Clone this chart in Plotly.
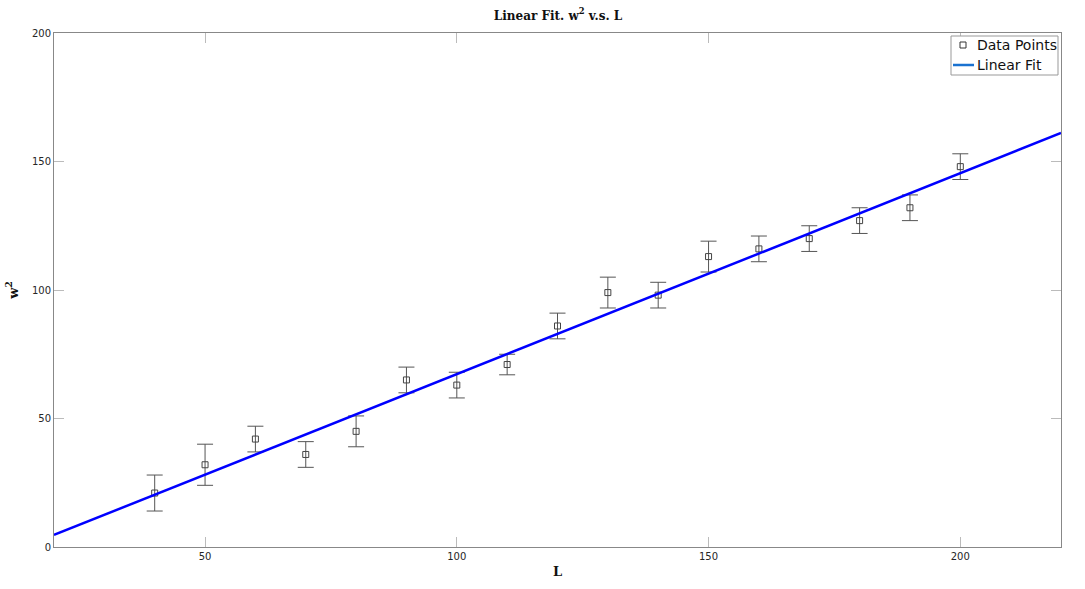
import plotly.graph_objects as go

L_vals = [40, 50, 60, 70, 80, 90, 100, 110, 120, 130, 140, 150, 160, 170, 180, 190, 200]
w2_vals = [21, 32, 42, 36, 45, 65, 63, 71, 86, 99, 98, 113, 116, 120, 127, 132, 148]
w2_err = [7, 8, 5, 5, 6, 5, 5, 4, 5, 6, 5, 6, 5, 5, 5, 5, 5]
fit_L = [20, 220]
fit_w2 = [4.7, 161.1]

x_ticks = [50, 100, 150, 200]
y_ticks = [0, 50, 100, 150, 200]
legend_labels = ["Data Points", "Linear Fit"]

fig = go.Figure()
fig.add_trace(go.Scatter(
    x=L_vals, y=w2_vals, mode="markers", name=legend_labels[0], showlegend=False,
    marker=dict(symbol="square-open", size=6, color="#444444", line=dict(width=1)),
    error_y=dict(type="data", array=w2_err, visible=True, color="#555555", thickness=1, width=8),
))
fig.add_trace(go.Scatter(
    x=fit_L, y=fit_w2, mode="lines", name=legend_labels[1], showlegend=False,
    line=dict(color="#0000ff", width=2.5),
))

axis_common = dict(
    showgrid=False, zeroline=False, showline=True, linecolor="#888888", linewidth=1,
    mirror="ticks", ticks="inside", ticklen=10, tickcolor="#bbbbbb", tickwidth=1,
    automargin=False,
    tickfont=dict(family="DejaVu Sans", size=10, color="#262626"),
)

# manual legend (paper coords of plot area)
PL, PR, PT, PB = 54, 1061, 33, 547
def px(x): return (x - PL) / (PR - PL)
def py(y): return 1 - (y - PT) / (PB - PT)

shapes = [
    dict(type="rect", xref="paper", yref="paper", x0=px(951), x1=px(1058), y0=py(75), y1=py(36),
         line=dict(color="#999999", width=1), fillcolor="white", layer="above"),
    dict(type="rect", xref="paper", yref="paper", x0=px(960), x1=px(966), y0=py(48), y1=py(42),
         line=dict(color="#333333", width=1), fillcolor="white", layer="above"),
    dict(type="line", xref="paper", yref="paper", x0=px(953), x1=px(974), y0=py(65), y1=py(65),
         line=dict(color="#1a72d0", width=2.5), layer="above"),
]
annotations = [
    dict(text=legend_labels[0], xref="paper", yref="paper", x=px(975), y=py(45), xanchor="left",
         yanchor="middle", showarrow=False, font=dict(family="DejaVu Sans", size=14, color="#111111")),
    dict(text=legend_labels[1], xref="paper", yref="paper", x=px(975), y=py(65), xanchor="left",
         yanchor="middle", showarrow=False, font=dict(family="DejaVu Sans", size=14, color="#111111")),
]

fig.update_layout(
    width=1085, height=589,
    margin=dict(l=PL, r=1085 - PR, t=PT, b=589 - PB),
    paper_bgcolor="white", plot_bgcolor="white",
    title=dict(text="<b>Linear Fit. w<sup>2</sup> v.s. L</b>", x=px(558), xref="paper", xanchor="center",
               y=0.974, yref="container", yanchor="middle",
               font=dict(family="DejaVu Serif", size=12, color="#111111")),
    xaxis=dict(range=[20, 220], tickvals=x_ticks,
               title=dict(text="<b>L</b>", standoff=5,
                          font=dict(family="DejaVu Serif", size=13, color="#111111")),
               **axis_common),
    yaxis=dict(range=[0, 200], tickvals=y_ticks,
               title=dict(text="<b>w<sup>2</sup></b>", standoff=10,
                          font=dict(family="DejaVu Serif", size=13, color="#111111")),
               **axis_common),
    shapes=shapes, annotations=annotations,
    showlegend=False,
)

fig.write_html("out.html", config={"displayModeBar": False},
               post_script="document.body.style.margin='0';")
